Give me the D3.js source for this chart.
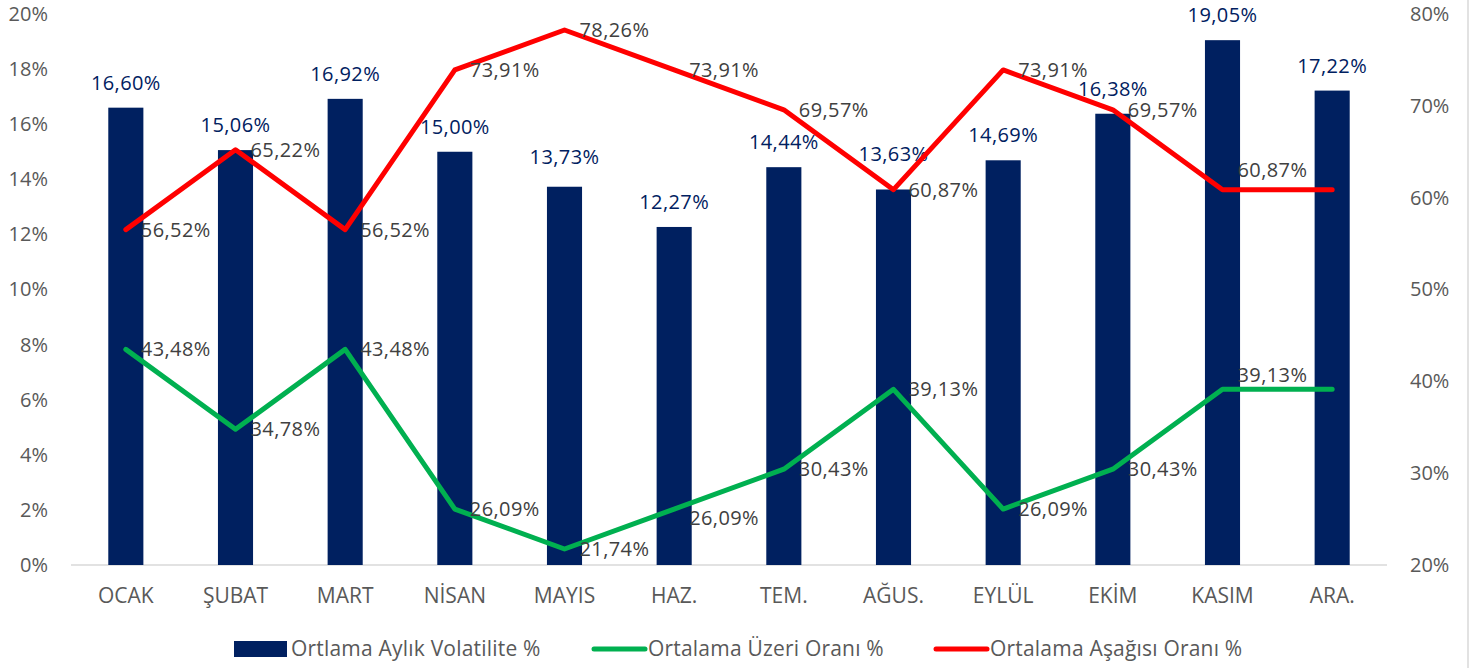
<!DOCTYPE html>
<html>
<head>
<meta charset="utf-8">
<script src="https://cdn.jsdelivr.net/npm/d3@7"></script>
<style>
  body { margin: 0; background: #fff; }
  svg { display: block; font-family: "Open Sans", sans-serif; }
</style>
</head>
<body>
<svg id="grafico"></svg>
<script>
// datos
const aylar = ["OCAK", "ŞUBAT", "MART", "NİSAN", "MAYIS", "HAZ.", "TEM.", "AĞUS.", "EYLÜL", "EKİM", "KASIM", "ARA."];
const volatilite = [16.60, 15.06, 16.92, 15.00, 13.73, 12.27, 14.44, 13.63, 14.69, 16.38, 19.05, 17.22];
const uzeriOrani = [43.48, 34.78, 43.48, 26.09, 21.74, 26.09, 30.43, 39.13, 26.09, 30.43, 39.13, 39.13];
const asagiOrani = [56.52, 65.22, 56.52, 73.91, 78.26, 73.91, 69.57, 60.87, 73.91, 69.57, 60.87, 60.87];
const solTikler = [0, 2, 4, 6, 8, 10, 12, 14, 16, 18, 20];
const sagTikler = [20, 30, 40, 50, 60, 70, 80];
const seriAdlari = ["Ortlama Aylık Volatilite %", "Ortalama Üzeri Oranı %", "Ortalama Aşağısı Oranı %"];

const ancho = 1479, alto = 668;
const margen = { top: 14, right: 92, bottom: 103, left: 71 };

const svg = d3.select("#grafico").attr("width", ancho).attr("height", alto);

const x = d3.scaleBand().domain(aylar).range([margen.left, ancho - margen.right]).paddingInner(0).paddingOuter(0);
const ySol = d3.scaleLinear().domain([0, 20]).range([alto - margen.bottom, margen.top]);
const ySag = d3.scaleLinear().domain([20, 80]).range([alto - margen.bottom, margen.top]);

const fmt = v => d3.format(".2f")(v).replace(".", ",") + "%";
const anchoBarra = x.bandwidth() * 0.32;
const cx = d => x(d) + x.bandwidth() / 2;

// ajustes manuales de etiquetas (como en el original, para evitar solapes)
const ajusteBarra = { "MAYIS": -5, "AĞUS.": -10 };
const ajusteUzeri = { "HAZ.": 9, "KASIM": -14 };
const ajusteAsagi = { "KASIM": -20 };

// borde derecho
svg.append("line")
    .attr("x1", 1468).attr("x2", 1468).attr("y1", 0).attr("y2", alto)
    .attr("stroke", "#d9d9d9").attr("stroke-width", 1.5);

// ejes
const ejeSol = svg.append("g")
    .attr("transform", `translate(${margen.left},0)`)
    .call(d3.axisLeft(ySol).tickValues(solTikler).tickSize(0).tickPadding(23).tickFormat(d => d + "%"));
const ejeSag = svg.append("g")
    .attr("transform", `translate(${ancho - margen.right},0)`)
    .call(d3.axisRight(ySag).tickValues(sagTikler).tickSize(0).tickPadding(23).tickFormat(d => d + "%"));
const ejeX = svg.append("g")
    .attr("transform", `translate(0,${alto - margen.bottom})`)
    .call(d3.axisBottom(x).tickSize(0).tickPadding(23));

[ejeSol, ejeSag].forEach(g => {
    g.select(".domain").remove();
    g.selectAll("text").attr("fill", "#595959").style("font-size", "20px").style("font-family", "'Open Sans', sans-serif");
});
ejeX.select(".domain").remove();
ejeX.selectAll("text").attr("fill", "#595959").style("font-size", "21px").style("font-family", "'Open Sans', sans-serif");

// linea base
svg.append("line")
    .attr("x1", margen.left).attr("x2", ancho - margen.right)
    .attr("y1", ySol(0)).attr("y2", ySol(0))
    .attr("stroke", "#d9d9d9").attr("stroke-width", 1.5);

// barras
svg.append("g").selectAll("rect")
    .data(aylar)
    .join("rect")
    .attr("x", d => cx(d) - anchoBarra / 2)
    .attr("y", (d, i) => ySol(volatilite[i]))
    .attr("width", anchoBarra)
    .attr("height", (d, i) => ySol(0) - ySol(volatilite[i]))
    .attr("fill", "#002060");

svg.append("g").selectAll("text")
    .data(aylar)
    .join("text")
    .attr("x", d => cx(d))
    .attr("y", (d, i) => ySol(volatilite[i]) - 25 + (ajusteBarra[d] || 0))
    .attr("dy", "0.35em")
    .attr("text-anchor", "middle")
    .attr("fill", "#002060")
    .style("font-size", "20px")
    .style("letter-spacing", "0.4px")
    .text((d, i) => fmt(volatilite[i]));

// lineas
const linea = d3.line().x(d => cx(d[0])).y(d => ySag(d[1]));
const series = [
    { valores: uzeriOrani, color: "#00b050", ajuste: ajusteUzeri },
    { valores: asagiOrani, color: "#ff0000", ajuste: ajusteAsagi }
];

series.forEach(s => {
    const puntos = aylar.map((a, i) => [a, s.valores[i]]);
    svg.append("path")
        .datum(puntos)
        .attr("d", linea)
        .attr("fill", "none")
        .attr("stroke", s.color)
        .attr("stroke-width", 5)
        .attr("stroke-linejoin", "round")
        .attr("stroke-linecap", "round");

    // etiquetas a la derecha (ARA sin etiqueta)
    svg.append("g").selectAll("text")
        .data(puntos.slice(0, 11))
        .join("text")
        .attr("x", d => cx(d[0]) + 15)
        .attr("y", d => ySag(d[1]) + (s.ajuste[d[0]] || 0))
        .attr("dy", "0.35em")
        .attr("fill", "#404040")
        .style("font-size", "20px")
        .style("letter-spacing", "0.4px")
        .text(d => fmt(d[1]));
});

// leyenda
const leyenda = svg.append("g").attr("transform", `translate(0,649)`);
const posLeyenda = [234, 591, 933];
seriAdlari.forEach((nombre, i) => {
    const g = leyenda.append("g").attr("transform", `translate(${posLeyenda[i]},0)`);
    if (i === 0) {
        g.append("rect").attr("x", 0).attr("y", -8).attr("width", 53).attr("height", 16).attr("fill", "#002060");
    } else {
        g.append("line").attr("x1", 3).attr("x2", 54).attr("y1", 0).attr("y2", 0)
            .attr("stroke", series[i - 1].color).attr("stroke-width", 5).attr("stroke-linecap", "round");
    }
    g.append("text")
        .attr("x", 57)
        .attr("dy", "0.35em")
        .attr("fill", "#595959")
        .style("font-size", "21px")
        .style("letter-spacing", "0.2px")
        .text(nombre);
});
</script>
</body>
</html>
